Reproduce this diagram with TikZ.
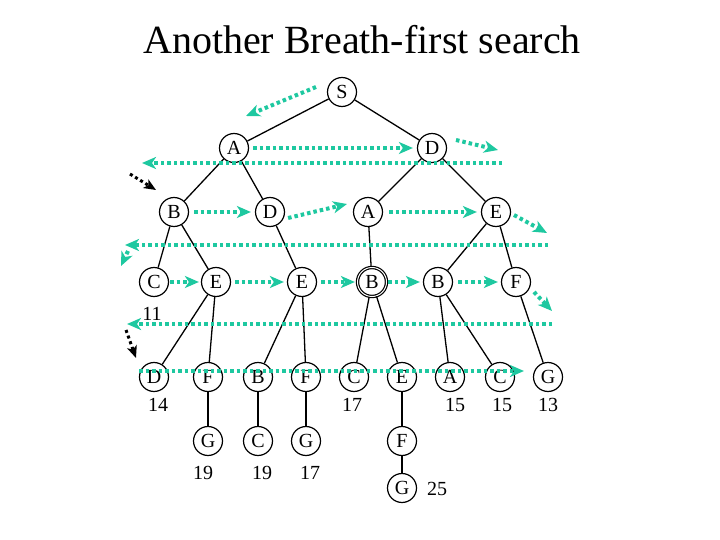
\documentclass[tikz,border=0pt]{standalone}
\usepackage{fontspec}
\setmainfont{Liberation Serif}
\usetikzlibrary{arrows.meta}
\definecolor{tl}{RGB}{30,200,160}
\begin{document}
\begin{tikzpicture}[x=1pt,y=-1pt,
  nd/.style={circle,draw,line width=1.2pt,minimum size=29pt,inner sep=0pt,font=\fontsize{20}{20}\selectfont},
  lb/.style={font=\fontsize{20}{20}\selectfont},
  ed/.style={line width=1.3pt},
  gr/.style={tl,line width=4pt,dash pattern=on 3.5pt off 3pt,-{Stealth[length=14pt,width=12pt,inset=4pt]}},
  bk/.style={black,line width=3pt,dash pattern=on 3pt off 3pt,-{Stealth[length=12pt,width=10pt,inset=3pt]}}]
\useasboundingbox (0,0) rectangle (720,540);
\node[font=\fontsize{40}{40}\selectfont] (title) at (362,40) {Another Breath-first search};
\node[nd] (S) at (342,92) {S};
\node[nd] (A) at (234,148) {A};
\node[nd] (D) at (432,148) {D};
\node[nd] (B1) at (174,212) {B};
\node[nd] (D2) at (270,212) {D};
\node[nd] (A2) at (368,212) {A};
\node[nd] (E1) at (496,212) {E};
\node[nd] (C3) at (154,282) {C};
\node[nd] (E3a) at (216,282) {E};
\node[nd] (E3b) at (302,282) {E};
\node[nd,double,double distance=1pt] (B3a) at (372,282) {B};
\node[nd] (B3b) at (438,282) {B};
\node[nd] (F3) at (516,282) {F};
\node[nd] (D4) at (154,377) {D};
\node[nd] (F4a) at (208,377) {F};
\node[nd] (B4) at (258,377) {B};
\node[nd] (F4b) at (306,377) {F};
\node[nd] (C4a) at (354,377) {C};
\node[nd] (E4) at (402,377) {E};
\node[nd] (A4) at (450,377) {A};
\node[nd] (C4b) at (500,377) {C};
\node[nd] (G4) at (548,377) {G};
\node[nd] (G5a) at (208,441) {G};
\node[nd] (C5) at (258,441) {C};
\node[nd] (G5b) at (306,441) {G};
\node[nd] (F5) at (402,441) {F};
\node[nd] (G6) at (402,488) {G};
\node[lb] (l11) at (152,314) {11};
\node[lb] (l14) at (158,405) {14};
\node[lb] (l17a) at (352,405) {17};
\node[lb] (l15a) at (455,405) {15};
\node[lb] (l15b) at (502,405) {15};
\node[lb] (l13) at (548,405) {13};
\node[lb] (l19a) at (203,473) {19};
\node[lb] (l19b) at (262,473) {19};
\node[lb] (l17b) at (310,473) {17};
\node[lb] (l25) at (437,489) {25};
\foreach \a/\b in {S/A,S/D,A/B1,A/D2,D/A2,D/E1,B1/C3,B1/E3a,D2/E3b,A2/B3a,E1/B3b,E1/F3,
  E3a/D4,E3a/F4a,E3b/B4,E3b/F4b,B3a/C4a,B3a/E4,B3b/A4,B3b/C4b,F3/G4,F4a/G5a,B4/C5,F4b/G5b,E4/F5,F5/G6}
  \draw[ed] (\a) -- (\b);
% green traversal arrows
\coordinate (g1s) at (316,87); \coordinate (g1e) at (246,116);
\draw[gr] (g1s) -- (g1e);
\draw[gr] (A.east) ++(4,0) coordinate (g2s) -- ([xshift=-4pt]D.west);
\coordinate (g3s) at (456,140); \coordinate (g3e) at (498,150);
\draw[gr] (g3s) -- (g3e);
\coordinate (g4s) at (502,163); \coordinate (g4e) at (142,163);
\draw[gr] (g4s) -- (g4e);
\coordinate (k1s) at (130,174); \coordinate (k1e) at (156,190);
\draw[bk] (k1s) -- (k1e);
\draw[gr] ([xshift=5pt]B1.east) -- ([xshift=-4pt]D2.west);
\coordinate (g7e) at (347,204);
\draw[gr] ([shift={(3pt,-6pt)}]D2.east) -- (g7e);
\draw[gr] ([xshift=6pt]A2.east) -- ([xshift=-4pt]E1.west);
\coordinate (g9s) at (514,215); \coordinate (g9e) at (547,233);
\draw[gr] (g9s) -- (g9e);
\coordinate (g10s) at (548,245); \coordinate (g10e) at (125,245);
\draw[gr] (g10s) -- (g10e);
\coordinate (g11s) at (128,251); \coordinate (g11e) at (121,266);
\draw[gr] (g11s) -- (g11e);
\draw[gr] ([xshift=1pt]C3.east) -- ([xshift=-2pt]E3a.west);
\draw[gr] ([xshift=4pt]E3a.east) -- ([xshift=-3pt]E3b.west);
\draw[gr] ([xshift=4pt]E3b.east) -- ([xshift=-2pt]B3a.west);
\draw[gr] ([xshift=1pt]B3a.east) -- ([xshift=-3pt]B3b.west);
\draw[gr] ([xshift=5pt]B3b.east) -- ([xshift=-3pt]F3.west);
\coordinate (g17s) at (534,292); \coordinate (g17e) at (552,311);
\draw[gr] (g17s) -- (g17e);
\coordinate (g18s) at (552,324); \coordinate (g18e) at (127,324);
\draw[gr] (g18s) -- (g18e);
\coordinate (k2s) at (126,330); \coordinate (k2e) at (136,358);
\draw[bk] (k2s) -- (k2e);
\coordinate (g19s) at (139,371); \coordinate (g19e) at (524,371);
\draw[gr] (g19s) -- (g19e);
\end{tikzpicture}
\end{document}
